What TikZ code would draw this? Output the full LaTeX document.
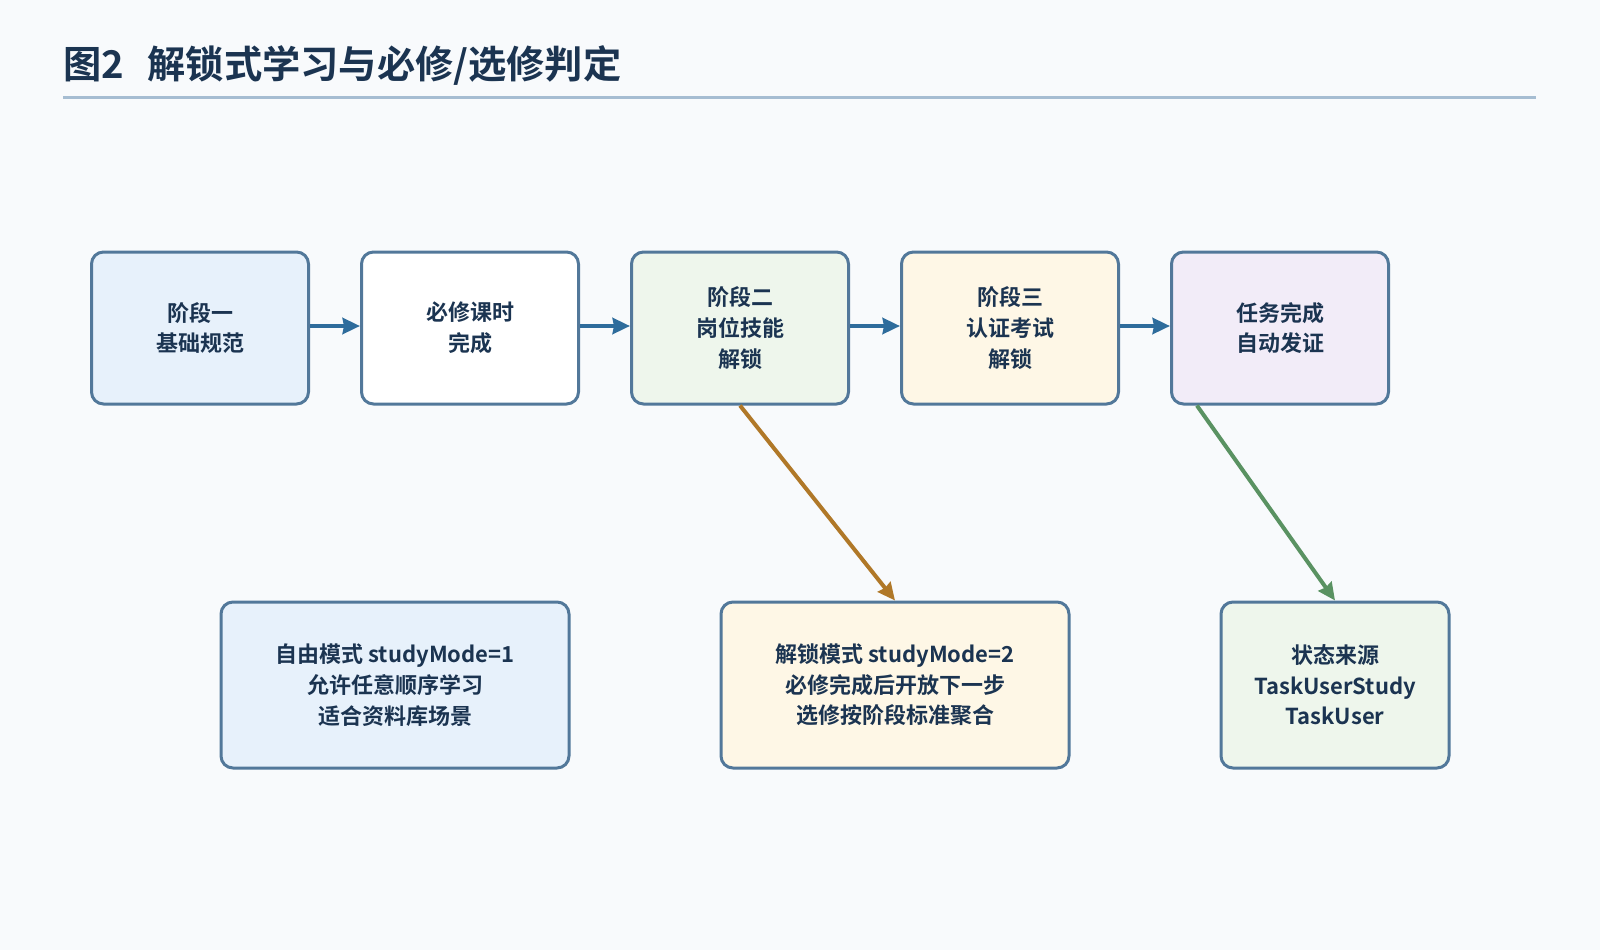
\documentclass[tikz,border=0pt]{standalone}
\usepackage{fontspec}
\setmainfont{Noto Sans CJK SC}[BoldFont={* Bold}]
\usepackage{tikz}
\usetikzlibrary{arrows.meta,positioning,calc}
\definecolor{ink}{HTML}{1B3451}
\definecolor{frameblue}{HTML}{52789A}
\definecolor{flow}{HTML}{2E6C9C}
\definecolor{sorange}{HTML}{B07828}
\definecolor{sgreen}{HTML}{5A9262}
\definecolor{paper}{HTML}{F8FAFC}
\definecolor{titlerule}{HTML}{A6BDD2}
\definecolor{fblue}{HTML}{E7F1FB}
\definecolor{fgreen}{HTML}{EEF6EC}
\definecolor{fyellow}{HTML}{FEF7E6}
\definecolor{fviolet}{HTML}{F2ECF8}
\tikzset{
  box/.style={draw=frameblue, line width=2.25pt, rounded corners=9pt, align=center, text=ink,
    font=\bfseries\fontsize{16.5}{23}\selectfont, inner sep=0pt},
  stagebox/.style={box, minimum width=162.75pt, minimum height=114pt},
  notebox/.style={box, minimum height=124.5pt},
  flowline/.style={->, flow, line width=3.5pt},
}

\begin{document}
\begin{tikzpicture}[x=0.75pt, y=-0.75pt, >={Stealth[length=13pt,width=12pt,inset=1pt]}]
\fill[paper] (0,0) rectangle (1600,950);
\node[anchor=west, text=ink, font=\bfseries\fontsize{28.7}{34}\selectfont] (title) at (59,66) {图2\hspace{0.6em}解锁式学习与必修/选修判定};
\draw[titlerule, line width=2.25pt] (63,97) -- (1536,97);
% stages
\node[stagebox, fill=fblue] (s1) at (200,328) {阶段一\\基础规范};
\node[stagebox, fill=white] (s2) at (470,328) {必修课时\\完成};
\node[stagebox, fill=fgreen] (s3) at (740,328) {阶段二\\岗位技能\\解锁};
\node[stagebox, fill=fyellow] (s4) at (1010,328) {阶段三\\认证考试\\解锁};
\node[stagebox, fill=fviolet] (s5) at (1280,328) {任务完成\\自动发证};
\foreach \a/\b in {s1/s2,s2/s3,s3/s4,s4/s5}
  \draw[flowline] ([yshift=1.5pt]\a.east) -- ([yshift=1.5pt]\b.west);
% modes
\node[notebox, fill=fblue, minimum width=261pt] (m1) at (395,685) {自由模式 studyMode=1\\允许任意顺序学习\\适合资料库场景};
\node[notebox, fill=fyellow, minimum width=261pt] (m2) at (895,685) {解锁模式 studyMode=2\\必修完成后开放下一步\\选修按阶段标准聚合};
\node[notebox, fill=fgreen, minimum width=171pt] (m3) at (1335,685) {状态来源\\TaskUserStudy\\TaskUser};
\draw[->, sorange, line width=3pt] (s3.south) -- (m2.north);
\draw[->, sgreen, line width=3pt] (s5.223) -- (m3.north);
\end{tikzpicture}
\end{document}
